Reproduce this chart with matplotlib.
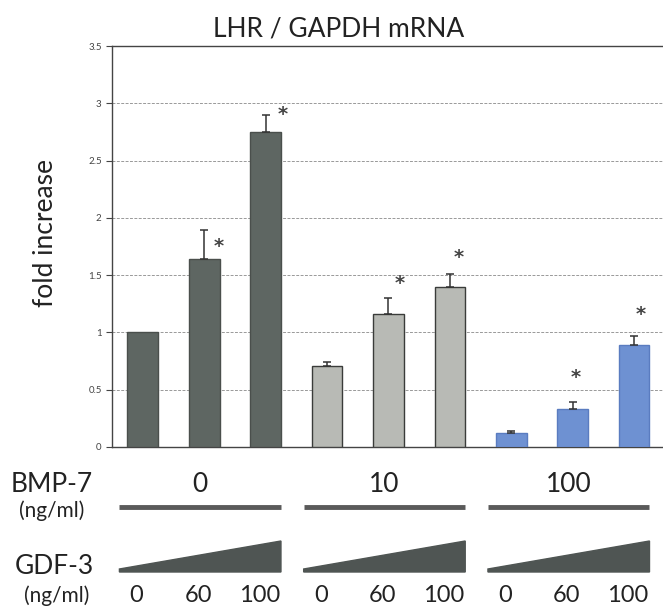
import numpy as np
import matplotlib.pyplot as plt
from matplotlib import transforms
from matplotlib.patches import Polygon

plt.rcParams['font.family'] = ['Lato', 'DejaVu Sans']

# Datos
bmp7_doses = ['0', '10', '100']
gdf3_doses = ['0', '60', '100']
means = [1.0, 1.64, 2.75, 0.71, 1.16, 1.40, 0.12, 0.33, 0.89]
errors = [0.0, 0.25, 0.15, 0.03, 0.14, 0.11, 0.02, 0.06, 0.08]
significant = [False, True, True, False, True, True, False, True, True]

group_colors = ['#5e6662', '#b8bab5', '#6e91d2']
group_edges = ['#4a4f4c', '#3a3c3a', '#5a7cc0']

fig = plt.figure(figsize=(6.63, 6.14), dpi=100)
ax = fig.add_axes([0.169, 0.272, 0.831, 0.653])

x = np.arange(len(means))
colors = [group_colors[i // 3] for i in range(len(means))]
edges = [group_edges[i // 3] for i in range(len(means))]

ax.bar(x, means, width=0.5, color=colors, edgecolor=edges, linewidth=1.0, zorder=3)
has_err = [i for i, e in enumerate(errors) if e > 0]
ax.errorbar(x[has_err], [means[i] for i in has_err],
            yerr=[np.zeros(len(has_err)), [errors[i] for i in has_err]], fmt='none',
            ecolor='#333333', elinewidth=1.1, capsize=3, capthick=1.1, zorder=4)

# asteriscos (desplazamiento x, y respecto al extremo del error)
star_offsets = [(0, 0), (0.24, -0.14), (0.28, 0.0), (0, 0), (0.18, 0.13),
                (0.15, 0.14), (0, 0), (0.05, 0.22), (0.11, 0.19)]
for i, sig in enumerate(significant):
    if sig:
        dx, dy = star_offsets[i]
        ax.text(x[i] + dx, means[i] + errors[i] + dy, '*', ha='center', va='center',
                fontsize=14, color='#444444', family='DejaVu Sans', fontweight='bold',
                zorder=5)

ax.set_xlim(-0.5, 8.47)
ax.set_ylim(0, 3.5)
ax.set_yticks(np.arange(0, 3.51, 0.5))
ax.set_yticklabels(['0', '0.5', '1', '1.5', '2', '2.5', '3', '3.5'])
ax.set_xticks([])
ax.tick_params(axis='y', labelsize=7, colors='#444444', length=4, width=0.8)
ax.grid(axis='y', linestyle=(0, (3, 1.5)), color='#999999', linewidth=0.7, zorder=0)
ax.spines['right'].set_visible(False)
for s in ['left', 'top', 'bottom']:
    ax.spines[s].set_color('#444444')
    ax.spines[s].set_linewidth(1.0)

def fy(px):
    return 1 - px / 614

fig.text(0.511, fy(36), 'LHR / GAPDH mRNA', ha='center', va='baseline',
         fontsize=19, color='#222222')
fig.text(0.068, fy(233), 'fold increase', rotation=90, ha='center', va='center',
         fontsize=19, color='#222222')

# Anotaciones bajo el grafico
trans = transforms.blended_transform_factory(ax.transData, fig.transFigure)

fig.text(0.078, fy(484), 'BMP-7', ha='center', va='center', fontsize=19, color='#222222')
fig.text(0.078, fy(511), '(ng/ml)', ha='center', va='center', fontsize=15, color='#222222')
fig.text(0.082, fy(566), 'GDF-3', ha='center', va='center', fontsize=19, color='#222222')
fig.text(0.086, fy(596), '(ng/ml)', ha='center', va='center', fontsize=15, color='#222222')

for g, dose in enumerate(bmp7_doses):
    x0 = x[3 * g] - 0.38
    x1 = x[3 * g + 2] + 0.25
    ax.text((x0 + x1) / 2, fy(484), dose, transform=trans, ha='center', va='center',
            fontsize=19, color='#222222')
    ax.plot([x0, x1], [fy(507), fy(507)], transform=trans, color='#5a5a5a',
            linewidth=3.5, solid_capstyle='butt', clip_on=False)
    tri = Polygon([(x0, fy(572)), (x1, fy(572)), (x1, fy(541)), (x0, fy(569))],
                  closed=True, transform=trans, facecolor='#4f5553',
                  edgecolor='#4f5553', clip_on=False)
    ax.add_patch(tri)
    for k, lab in enumerate(gdf3_doses):
        ax.text(x[3 * g + k] - 0.1, fy(595), lab, transform=trans, ha='center',
                va='center', fontsize=17, color='#222222')

fig.savefig('out.png', dpi=100)
